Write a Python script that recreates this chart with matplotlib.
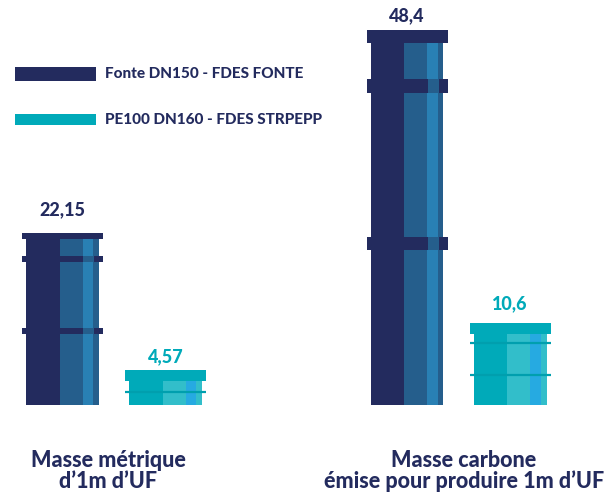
import matplotlib.pyplot as plt
from matplotlib.patches import Rectangle

# données
groupes = ["Masse métrique\nd’1m d’UF", "Masse carbone\némise pour produire 1m d’UF"]
series = ["Fonte DN150 - FDES FONTE", "PE100 DN160 - FDES STRPEPP"]
fonte = [22.15, 48.4]
pe = [4.57, 10.6]
labels_fonte = ["22,15", "48,4"]
labels_pe = ["4,57", "10,6"]

NAVY = "#232b5e"
MID = "#255e8c"
LIGHT = "#2980b4"
TEAL = "#00aab9"
TEAL_L = "#32beca"
BLUE = "#26aae1"

plt.rcParams['font.family'] = ['Lato', 'DejaVu Sans']

fig = plt.figure(figsize=(6.13, 4.93), dpi=100)
ax = fig.add_axes([0, 0, 1, 1])
ppu = 7.75  # pixels par unité
ax.set_xlim(0, 613)
ax.set_ylim(-88 / ppu, 405 / ppu)
ax.axis("off")

# position des tuyaux (centre en px)
x_fonte = [62.5, 407]
x_pe = [165.5, 510]
w_body = 73
w_fl = 81


def stripes(ax, xc, h, cols, fracs):
    x0 = xc - w_body / 2
    for c, (a, b) in zip(cols, fracs):
        ax.bar(x0 + a * w_body, h, width=(b - a) * w_body, align="edge", color=c, lw=0)


fr = [(0, 0.46), (0.46, 0.78), (0.78, 0.92), (0.92, 1.0)]

for i, v in enumerate(fonte):
    xc = x_fonte[i]
    fh = (6 if i == 0 else 13.5) / ppu
    stripes(ax, xc, v - fh, [NAVY, MID, LIGHT, MID], fr)
    ax.bar(xc, fh, bottom=v - fh, width=w_fl, color=NAVY, lw=0)
    for f in [0.43, 0.85]:
        ax.bar(xc, fh, bottom=v * f - fh / 2, width=w_fl, color=NAVY, lw=0)
        ax.bar(xc - w_body / 2 + 0.86 * w_body, fh, bottom=v * f - fh / 2,
               width=0.15 * w_body, color=MID, lw=0)
    ax.annotate(labels_fonte[i], (xc, v), xytext=(0, [17, 10][i]), textcoords="offset points",
                ha="center", va="center", fontsize=13, fontweight="black", color=NAVY)

for i, v in enumerate(pe):
    xc = x_pe[i]
    fh = 11 / ppu
    stripes(ax, xc, v - fh, [TEAL, TEAL_L, BLUE, TEAL_L], fr)
    for f in [0.37, 0.75]:
        if v * f < v - fh:
            ax.plot([xc - w_fl / 2, xc + w_fl / 2], [v * f, v * f], color="#009fae", lw=1.6,
                    solid_capstyle="butt")
    ax.bar(xc, fh, bottom=v - fh, width=w_fl, color=TEAL, lw=0)
    ax.annotate(labels_pe[i], (xc, v), xytext=(0, [9, 14][i]), textcoords="offset points",
                ha="center", va="center", fontsize=13, fontweight="black", color=TEAL)

# légende
fig.patches.append(Rectangle((15 / 613, 1 - 81 / 493), 81 / 613, 14 / 493,
                             transform=fig.transFigure, color=NAVY, lw=0))
fig.patches.append(Rectangle((15 / 613, 1 - 125 / 493), 81 / 613, 11 / 493,
                             transform=fig.transFigure, color=TEAL, lw=0))
fig.text(105 / 613, 1 - 74 / 493, series[0], ha="left", va="center",
         fontsize=11, fontweight="black", color=NAVY)
fig.text(105 / 613, 1 - 120 / 493, series[1], ha="left", va="center",
         fontsize=11, fontweight="black", color=NAVY)

# étiquettes des groupes
for xc, g in zip([108, 464], groupes):
    fig.text(xc / 613, 1 - 471 / 493, g, ha="center", va="center", fontsize=15.5,
             fontweight="black", color=NAVY, linespacing=0.95)

fig.savefig("out.png", dpi=100)
